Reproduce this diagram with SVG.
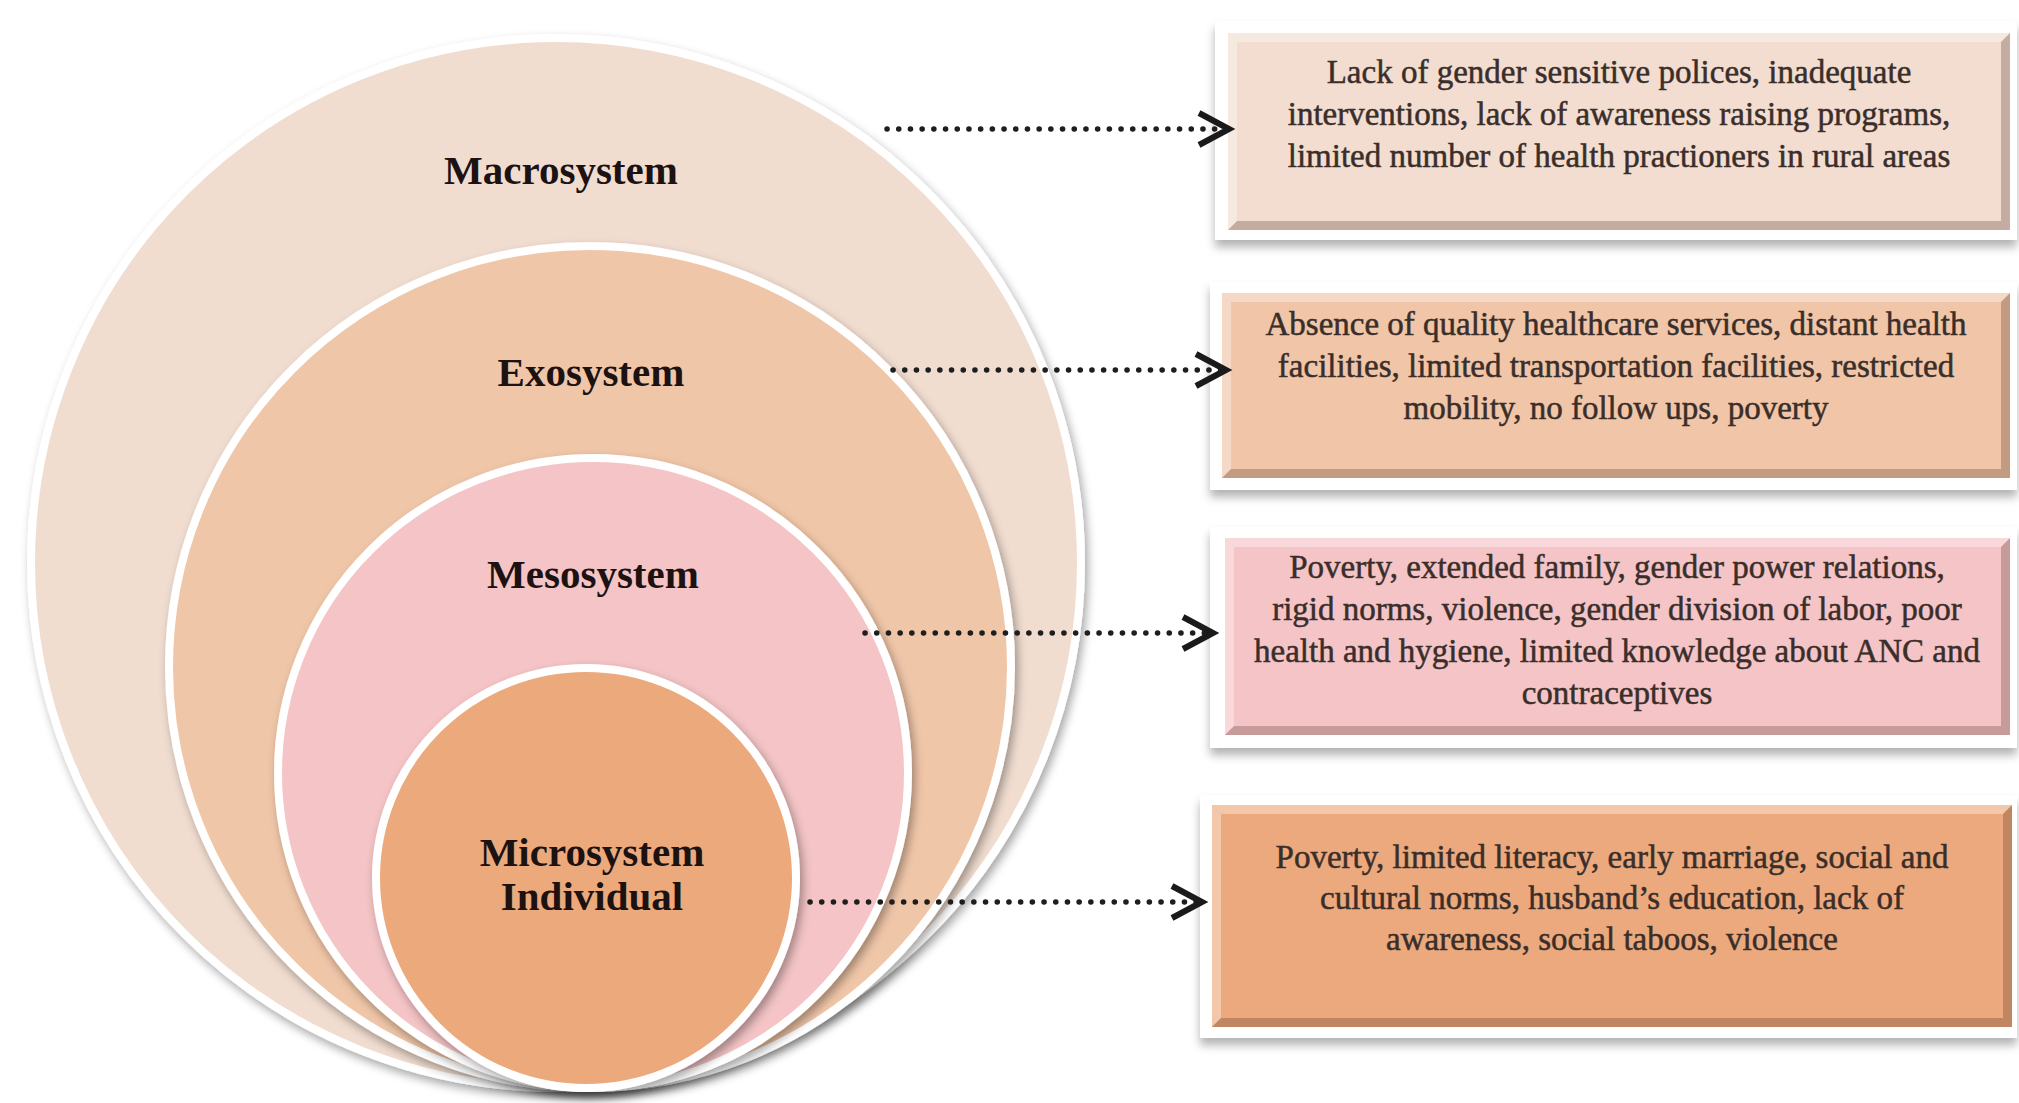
<svg xmlns="http://www.w3.org/2000/svg" width="2019" height="1103" viewBox="0 0 2019 1103">
<style>
.ring{stroke:#fff;stroke-width:8}
.lbl{font-family:"Liberation Serif","Times New Roman",serif;font-weight:bold;font-size:41px;fill:#1c1212;text-anchor:middle}
.frame{fill:#fff}
.hl{fill:#fff;opacity:.35}
.dk{fill:#3a2010;opacity:.25}
.txt{font-family:"Liberation Serif","Times New Roman",serif;font-size:33px;fill:#3a2e2a;stroke:#3a2e2a;stroke-width:0.5;text-anchor:middle}
.con{fill:none;stroke:#1e1e1e;stroke-width:5.5;stroke-linecap:round;stroke-dasharray:0.1 11.6}
</style>
<defs>
<filter id="sh" x="-10%" y="-10%" width="125%" height="125%">
<feDropShadow dx="3" dy="5" stdDeviation="5" flood-color="#000" flood-opacity="0.35"/>
</filter>
<filter id="bsh" x="-5%" y="-10%" width="110%" height="130%">
<feDropShadow dx="0" dy="7" stdDeviation="5" flood-color="#000" flood-opacity="0.3"/>
</filter>
<marker id="chev" markerUnits="userSpaceOnUse" markerWidth="44" markerHeight="44" viewBox="0 0 44 44" refX="36" refY="22" orient="auto">
<path d="M6,6 L36,22 L6,38" fill="none" stroke="#1a1a1a" stroke-width="6" stroke-linejoin="miter"/>
</marker>
</defs>
<rect width="2019" height="1103" fill="#fff"/>

<g id="node-macrosystem">
<circle class="ring" cx="556" cy="563" r="525" fill="#F1DDD0" filter="url(#sh)"/>
<text class="lbl" x="561" y="184">Macrosystem</text>
</g>
<g id="node-exosystem">
<circle class="ring" cx="590" cy="667" r="421" fill="#F0C6A8" filter="url(#sh)"/>
<text class="lbl" x="591" y="386">Exosystem</text>
</g>
<g id="node-mesosystem">
<circle class="ring" cx="593" cy="773" r="315" fill="#F4C4C6" filter="url(#sh)"/>
<text class="lbl" x="593" y="588">Mesosystem</text>
</g>
<g id="node-microsystem">
<circle class="ring" cx="586" cy="878" r="210" fill="#EBA97C" filter="url(#sh)"/>
<text class="lbl" x="592" y="866">Microsystem</text>
<text class="lbl" x="592" y="910">Individual</text>
</g>

<g id="node-macro-factors">
<rect class="frame" x="1215" y="21" width="802" height="219" filter="url(#bsh)"/>
<rect x="1228" y="33" width="782" height="197" fill="#F2DDD0"/>
<polygon class="hl" points="1228,33 2010,33 2001,42 1237,42"/>
<polygon class="hl" points="1228,33 1237,42 1237,221 1228,230"/>
<polygon class="dk" points="1228,230 1237,221 2001,221 2010,230"/>
<polygon class="dk" points="2010,33 2010,230 2001,221 2001,42"/>
<text class="txt" x="1619" y="83">Lack of gender sensitive polices, inadequate</text>
<text class="txt" x="1619" y="125">interventions, lack of awareness raising programs,</text>
<text class="txt" x="1619" y="167">limited number of health practioners in rural areas</text>
</g>

<g id="node-exo-factors">
<rect class="frame" x="1210" y="282" width="807" height="208" filter="url(#bsh)"/>
<rect x="1222" y="293" width="788" height="185" fill="#F0C5A8"/>
<polygon class="hl" points="1222,293 2010,293 2001,302 1231,302"/>
<polygon class="hl" points="1222,293 1231,302 1231,469 1222,478"/>
<polygon class="dk" points="1222,478 1231,469 2001,469 2010,478"/>
<polygon class="dk" points="2010,293 2010,478 2001,469 2001,302"/>
<text class="txt" x="1616" y="335">Absence of quality healthcare services, distant health</text>
<text class="txt" x="1616" y="377">facilities, limited transportation facilities, restricted</text>
<text class="txt" x="1616" y="419">mobility, no follow ups, poverty</text>
</g>

<g id="node-meso-factors">
<rect class="frame" x="1210" y="527" width="807" height="221" filter="url(#bsh)"/>
<rect x="1225" y="538" width="785" height="197" fill="#F4C4C7"/>
<polygon class="hl" points="1225,538 2010,538 2001,547 1234,547"/>
<polygon class="hl" points="1225,538 1234,547 1234,726 1225,735"/>
<polygon class="dk" points="1225,735 1234,726 2001,726 2010,735"/>
<polygon class="dk" points="2010,538 2010,735 2001,726 2001,547"/>
<text class="txt" x="1617" y="578">Poverty, extended family, gender power relations,</text>
<text class="txt" x="1617" y="620">rigid norms, violence, gender division of labor, poor</text>
<text class="txt" x="1617" y="662">health and hygiene, limited knowledge about ANC and</text>
<text class="txt" x="1617" y="704">contraceptives</text>
</g>

<g id="node-micro-factors">
<rect class="frame" x="1200" y="795" width="817" height="243" filter="url(#bsh)"/>
<rect x="1212" y="805" width="800" height="222" fill="#EBA97D"/>
<polygon class="hl" points="1212,805 2012,805 2003,814 1221,814"/>
<polygon class="hl" points="1212,805 1221,814 1221,1018 1212,1027"/>
<polygon class="dk" points="1212,1027 1221,1018 2003,1018 2012,1027"/>
<polygon class="dk" points="2012,805 2012,1027 2003,1018 2003,814"/>
<text class="txt" x="1612" y="868">Poverty, limited literacy, early marriage, social and</text>
<text class="txt" x="1612" y="909">cultural norms, husband’s education, lack of</text>
<text class="txt" x="1612" y="950">awareness, social taboos, violence</text>
</g>

<g id="connectors">
<path class="con" d="M887,129 H1229" marker-end="url(#chev)"/>
<path class="con" d="M893,370 H1226" marker-end="url(#chev)"/>
<path class="con" d="M865,633 H1213" marker-end="url(#chev)"/>
<path class="con" d="M810,902 H1202" marker-end="url(#chev)"/>
</g>
</svg>
